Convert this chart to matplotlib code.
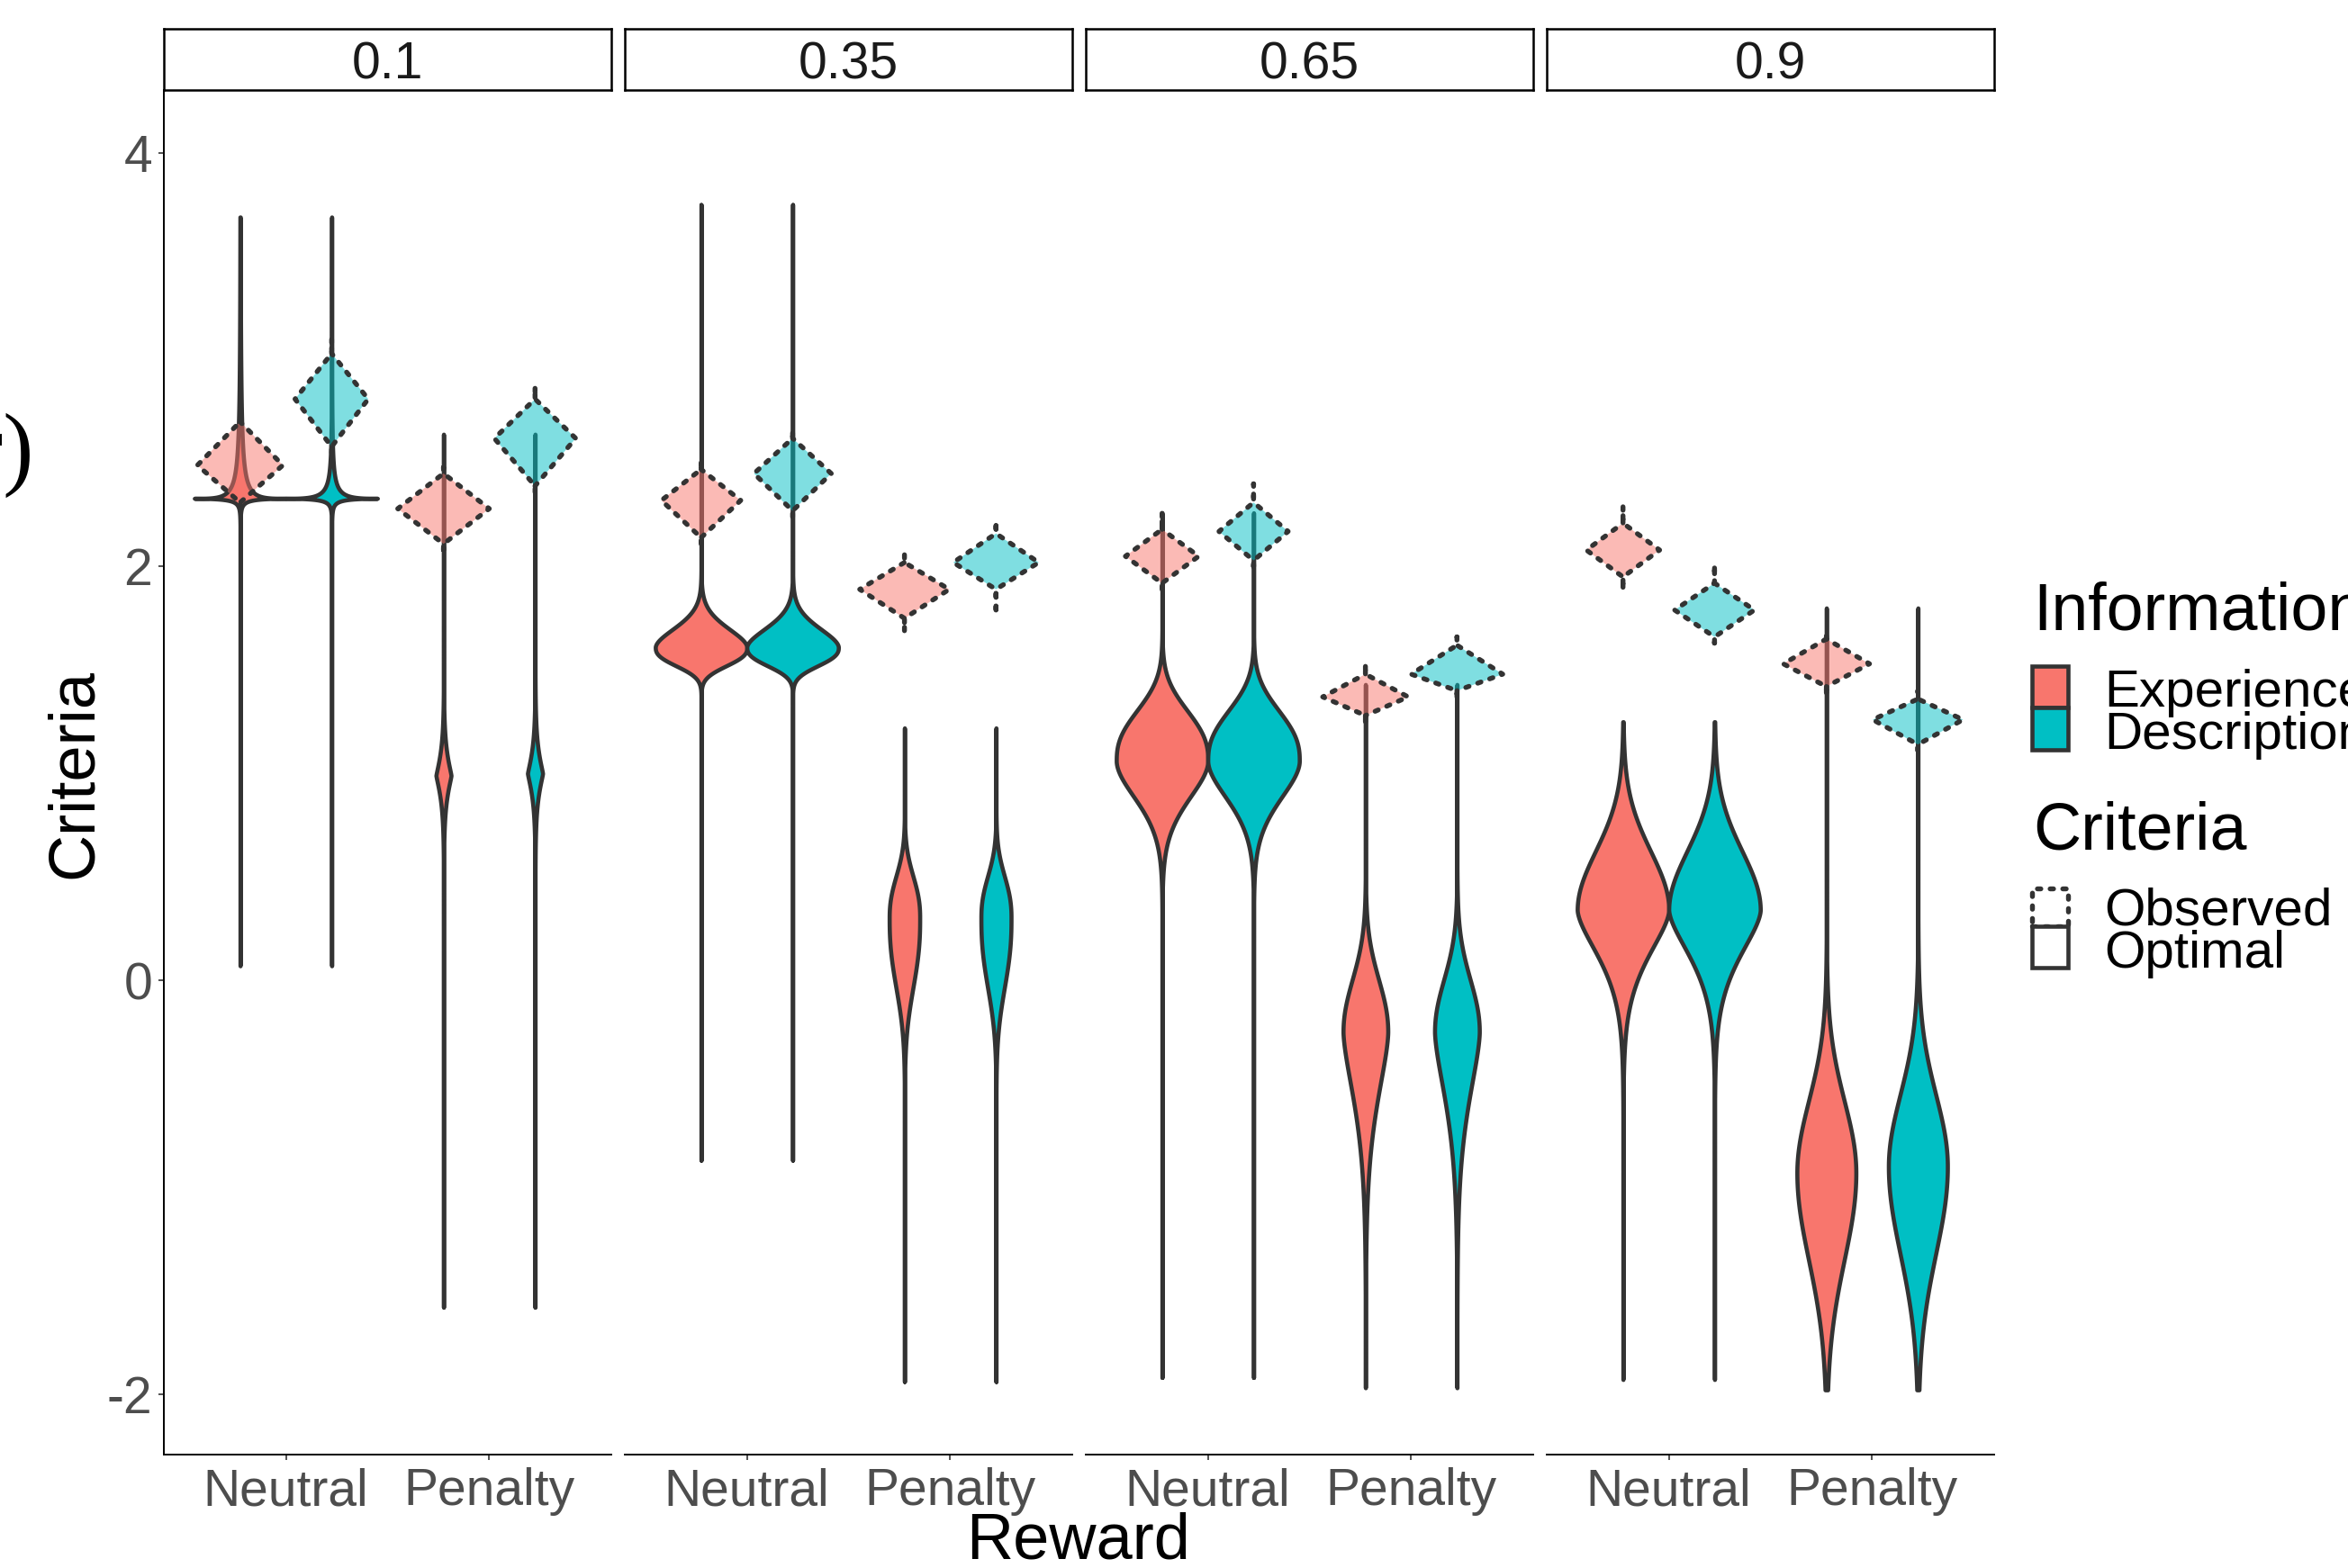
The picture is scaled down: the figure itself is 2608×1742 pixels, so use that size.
import numpy as np
import matplotlib
matplotlib.use("Agg")
import matplotlib.pyplot as plt
from matplotlib.patches import Rectangle

plt.rcParams['font.family'] = ['Liberation Sans', 'DejaVu Sans']

W_PX, H_PX = 2608, 1742

# ---------------- data ----------------
panels = ["0.1", "0.35", "0.65", "0.9"]
rewards = ["Neutral", "Penalty"]
infos = ["Experience", "Description"]
info_colors = ["#F8766D", "#00BFC4"]
criteria_levels = ["Observed", "Optimal"]
y_ticks = [-2, 0, 2, 4]
y_tick_labels = ["-2", "0", "2", "4"]

# Observed criteria (diamond-shaped violins) [panel][reward][info]
obs_mid = [[[2.49, 2.81], [2.28, 2.62]],
           [[2.32, 2.45], [1.89, 2.02]],
           [[2.05, 2.17], [1.37, 1.48]],
           [[2.08, 1.79], [1.53, 1.26]]]
obs_top = [[[2.70, 3.03], [2.45, 2.81]],
           [[2.47, 2.62], [2.02, 2.16]],
           [[2.18, 2.31], [1.48, 1.62]],
           [[2.21, 1.92], [1.65, 1.36]]]
obs_bot = [[[2.31, 2.58], [2.11, 2.39]],
           [[2.14, 2.27], [1.75, 1.89]],
           [[1.92, 2.03], [1.28, 1.40]],
           [[1.95, 1.66], [1.42, 1.14]]]
obs_max = [[[2.74, 3.10], [2.48, 2.87]],
           [[2.51, 2.66], [2.06, 2.22]],
           [[2.26, 2.40], [1.53, 1.66]],
           [[2.29, 2.01], [1.68, 1.40]]]
obs_min = [[[2.28, 2.55], [2.08, 2.36]],
           [[2.11, 2.24], [1.69, 1.79]],
           [[1.89, 2.00], [1.25, 1.37]],
           [[1.90, 1.63], [1.39, 1.11]]]
obs_halfwidth = [[[0.21, 0.18], [0.225, 0.20]],
                 [[0.195, 0.19], [0.22, 0.21]],
                 [[0.18, 0.17], [0.21, 0.225]],
                 [[0.18, 0.196], [0.212, 0.222]]]

# Optimal criteria (density-shaped violins) [panel][reward][info]
opt_mode = [[[2.33, 2.33], [0.99, 1.00]],
            [[1.61, 1.61], [0.30, 0.30]],
            [[1.06, 1.06], [-0.25, -0.25]],
            [[0.34, 0.34], [-0.93, -0.90]]]
opt_halfwidth = [[[0.225, 0.225], [0.037, 0.037]],
                 [[0.225, 0.225], [0.075, 0.074]],
                 [[0.225, 0.225], [0.11, 0.11]],
                 [[0.225, 0.225], [0.145, 0.145]]]
opt_spread_lo = [[[0.006, 0.006], [0.13, 0.13]],
                 [[0.11, 0.11], [0.42, 0.42]],
                 [[0.26, 0.26], [0.45, 0.45]],
                 [[0.31, 0.31], [0.595, 0.595]]]
opt_spread_hi = [[[0.0167, 0.012], [0.13, 0.13]],
                 [[0.132, 0.132], [0.255, 0.255]],
                 [[0.30, 0.30], [0.344, 0.344]],
                 [[0.40, 0.40], [0.49, 0.49]]]
opt_shape_lo = [[[0.6, 0.6], [1.2, 1.2]],
                [[2.5, 2.5], [2.4, 2.4]],
                [[1.8, 1.8], [1.55, 1.55]],
                [[1.6, 1.6], [2.0, 2.0]]]
opt_shape_hi = [[[0.39, 0.45], [1.2, 1.2]],
                [[1.8, 1.8], [2.4, 2.4]],
                [[2.5, 2.5], [2.1, 2.1]],
                [[2.0, 2.0], [2.0, 2.0]]]
opt_max = [[[3.69, 3.69], [2.64, 2.64]],
           [[3.75, 3.75], [1.22, 1.22]],
           [[2.26, 2.26], [1.43, 1.43]],
           [[1.25, 1.25], [1.80, 1.80]]]
opt_min = [[[0.07, 0.07], [-1.58, -1.58]],
           [[-0.87, -0.87], [-1.94, -1.94]],
           [[-1.92, -1.92], [-1.97, -1.97]],
           [[-1.93, -1.93], [-1.98, -1.98]]]

# ---------------- styling ----------------
EDGE = "#333333"
LW = 3.3
LW_DOT = 3.9
DOT = (0, (0.7, 1.9))
DODGE = 0.225


def fx(px):
    return px / W_PX


def fy(py):
    return 1 - py / H_PX


fig = plt.figure(figsize=(W_PX / 100, H_PX / 100), dpi=100)

panel_left_px = [182, 694, 1206, 1718]
panel_w_px = 497
panel_top_px, panel_bot_px = 100, 1616
strip_top_px = 32

ylim = (-2.293, 4.304)

for p, plabel in enumerate(panels):
    l = fx(panel_left_px[p])
    w = panel_w_px / W_PX
    ax = fig.add_axes([l, fy(panel_bot_px), w, (panel_bot_px - panel_top_px) / H_PX])
    ax.set_xlim(0.4, 2.6)
    ax.set_ylim(*ylim)
    for s in ["top", "right"]:
        ax.spines[s].set_visible(False)
    ax.spines["bottom"].set_linewidth(1.4)
    ax.spines["bottom"].set_color("black")
    if p == 0:
        ax.spines["left"].set_linewidth(1.4)
        ax.spines["left"].set_color("black")
        ax.set_yticks(y_ticks)
        ax.set_yticklabels(y_tick_labels)
    else:
        ax.spines["left"].set_visible(False)
        ax.set_yticks([])
    ax.set_xticks([1, 2])
    ax.set_xticklabels(rewards)
    ax.tick_params(axis="both", length=4.3, width=1.2, color="#333333",
                   labelsize=41, labelcolor="#4D4D4D")
    ax.tick_params(axis="x", pad=6)
    ax.tick_params(axis="y", pad=5)

    for r in range(len(rewards)):
        for i in range(len(infos)):
            xc = (r + 1) + (-DODGE if i == 0 else DODGE)
            # optimal violin
            c = opt_mode[p][r][i]
            yy = np.sort(np.concatenate([np.linspace(opt_min[p][r][i], opt_max[p][r][i], 4000), [c]]))
            d = yy - c
            s = np.where(d < 0, opt_spread_lo[p][r][i], opt_spread_hi[p][r][i])
            k = np.where(d < 0, opt_shape_lo[p][r][i], opt_shape_hi[p][r][i])
            wd = opt_halfwidth[p][r][i] * np.exp(-(np.abs(d) / s) ** k)
            ax.fill_betweenx(yy, xc - wd, xc + wd, facecolor=info_colors[i],
                             edgecolor=EDGE, linewidth=LW, zorder=2)
            # observed violin (diamond)
            m = obs_mid[p][r][i]
            yy = np.sort(np.concatenate([np.linspace(obs_min[p][r][i], obs_max[p][r][i], 1500), [m]]))
            up = np.clip(1 - (yy - m) / (obs_top[p][r][i] - m), 0, 1)
            lo = np.clip(1 - (m - yy) / (m - obs_bot[p][r][i]), 0, 1)
            wd = obs_halfwidth[p][r][i] * np.where(yy >= m, up, lo)
            pc = ax.fill_betweenx(yy, xc - wd, xc + wd,
                                  facecolor=matplotlib.colors.to_rgba(info_colors[i], 0.5),
                                  edgecolor=EDGE, linewidth=LW_DOT, zorder=3)
            pc.set_linestyle(DOT)
            pc.set_capstyle("round")

    # strip
    sax = fig.add_axes([l, fy(panel_top_px), w, (panel_top_px - strip_top_px) / H_PX])
    sax.set_xticks([])
    sax.set_yticks([])
    for s in sax.spines.values():
        s.set_linewidth(1.8)
        s.set_color("black")
    sax.text(0.5, 0.40, plabel, ha="center", va="center", fontsize=41,
             color="#1A1A1A", transform=sax.transAxes)

# axis titles
fig.text(fx(83), fy(860), "Criteria", rotation=90, ha="center", va="center",
         fontsize=52, color="black")
fig.text(fx(1198), fy(1713), "Reward", ha="center", va="center",
         fontsize=52, color="black")

# partial panel letter at left edge
fig.text(fx(38), fy(531), "(r)", ha="right", va="baseline", fontsize=74,
         family=["Liberation Serif", "DejaVu Serif"], color="black")

# ---------------- legend ----------------
key_x0, key_x1 = 2257, 2297
text_x = 2337
fig.text(fx(2258), fy(700), "Information", ha="left", va="baseline", fontsize=53, color="black")
info_keys = [(740, 786), (786, 833)]
info_base = [785, 832]
for i, lab in enumerate(infos):
    y0, y1 = info_keys[i]
    fig.add_artist(Rectangle((fx(key_x0), fy(y1)), (key_x1 - key_x0) / W_PX, (y1 - y0) / H_PX,
                             transform=fig.transFigure, facecolor=info_colors[i],
                             edgecolor=EDGE, linewidth=LW))
    fig.text(fx(text_x), fy(info_base[i]), lab, ha="left", va="baseline", fontsize=42, color="black")

fig.text(fx(2258), fy(943), "Criteria", ha="left", va="baseline", fontsize=53, color="black")
crit_keys = [(987, 1029), (1029, 1075)]
crit_base = [1027, 1075]
for j, lab in enumerate(criteria_levels):
    y0, y1 = crit_keys[j]
    rect = Rectangle((fx(key_x0), fy(y1)), (key_x1 - key_x0) / W_PX, (y1 - y0) / H_PX,
                     transform=fig.transFigure, facecolor="white",
                     edgecolor=EDGE, linewidth=(LW_DOT if j == 0 else LW),
                     linestyle=(DOT if j == 0 else "solid"))
    if j == 0:
        rect.set_capstyle("round")
    fig.add_artist(rect)
    fig.text(fx(text_x), fy(crit_base[j]), lab, ha="left", va="baseline", fontsize=42, color="black")

fig.savefig("out.png", dpi=100, facecolor="white")
